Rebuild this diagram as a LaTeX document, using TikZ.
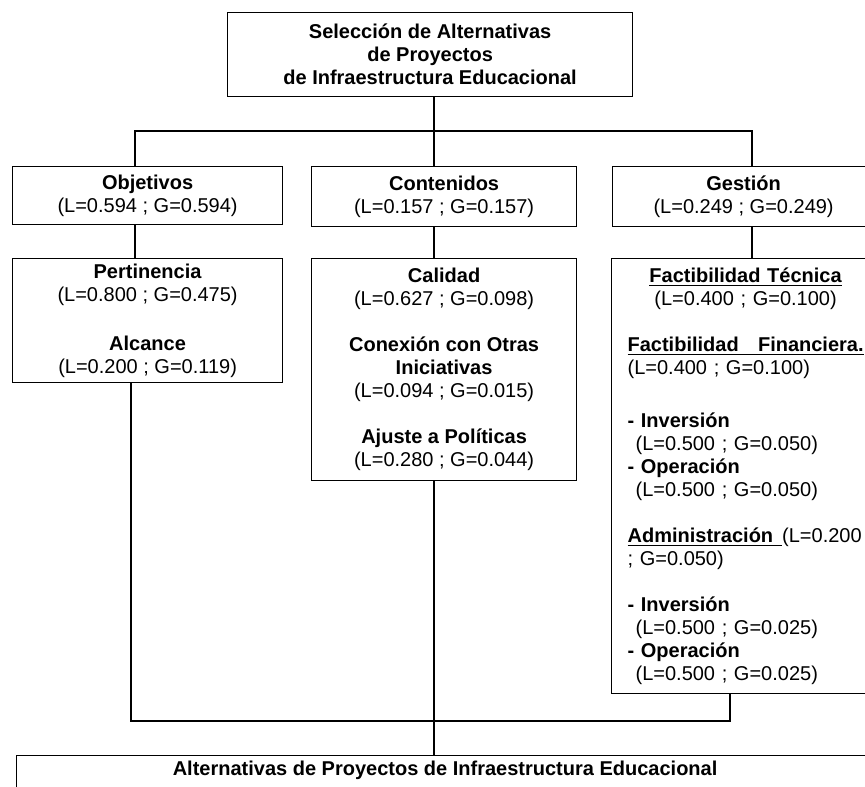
\documentclass[tikz,border=0pt]{standalone}
\usepackage{fontspec}
\setmainfont{Liberation Sans}
\usetikzlibrary{positioning}

\newcommand{\factw}{118pt}

\begin{document}
\begin{tikzpicture}[x=0.5pt, y=-0.5pt,
    every node/.style={font=\fontsize{10}{11.5}\selectfont},
    critbox/.style={draw, rectangle, line width=0.6pt, fill=white, align=center, anchor=north west, inner sep=0pt},
    subbox/.style={draw, rectangle, line width=0.6pt, fill=white, align=left, anchor=north west, inner xsep=8pt, inner ysep=0pt, text width=\factw},
    conn/.style={line width=0.6pt}
]
    \useasboundingbox (0,0) rectangle (865,786);
    \clip (0,0) rectangle (865,786);

    % Goal
    \node (goal) [critbox, minimum width=202.5pt, minimum height=42pt] at (227,12)
        {\textbf{Selección de Alternativas}\\\textbf{de Proyectos}\\\textbf{de Infraestructura Educacional}};

    % Criteria
    \node (obj) [critbox, minimum width=135pt, minimum height=29pt] at (12,166)
        {\textbf{Objetivos}\\(L=0.594 ; G=0.594)};
    \node (cont) [critbox, minimum width=132.5pt, minimum height=30pt] at (311,166)
        {\textbf{Contenidos}\\(L=0.157 ; G=0.157)};
    \node (gest) [critbox, minimum width=131pt, minimum height=30pt] at (612,166)
        {\textbf{Gestión}\\(L=0.249 ; G=0.249)};

    % Sub-criteria
    \node (pert) [critbox, minimum width=135pt, minimum height=62pt] at (12,258)
        {\textbf{Pertinencia}\\(L=0.800 ; G=0.475)\\[13pt]
         \textbf{Alcance}\\(L=0.200 ; G=0.119)};
    \node (cal) [critbox, minimum width=132.5pt, minimum height=111pt] at (311,258)
        {\textbf{Calidad}\\(L=0.627 ; G=0.098)\\[11.5pt]
         \textbf{Conexión con Otras}\\\textbf{Iniciativas}\\(L=0.094 ; G=0.015)\\[11.5pt]
         \textbf{Ajuste a Políticas}\\(L=0.280 ; G=0.044)};
    \node (fact) [subbox, minimum height=217.5pt] at (611,258)
        {\makebox[\factw]{\underline{\textbf{Factibilidad Técnica}}}\\
         \makebox[\factw]{(L=0.400 ; G=0.100)}\\[11.5pt]
         \underline{\hbox to \factw{\textbf{Factibilidad}\hfill\textbf{Financiera.}}}\\
         (L=0.400 ; G=0.100)\\[15pt]
         \textbf{- Inversión}\\
         \hspace*{4pt}(L=0.500 ; G=0.050)\\
         \textbf{- Operación}\\
         \hspace*{4pt}(L=0.500 ; G=0.050)\\[11.5pt]
         \underline{\textbf{Administración}\hspace{4.5pt}}(L=0.200\\
         ; G=0.050)\\[11.5pt]
         \textbf{- Inversión}\\
         \hspace*{4pt}(L=0.500 ; G=0.025)\\
         \textbf{- Operación}\\
         \hspace*{4pt}(L=0.500 ; G=0.025)};

    % Alternatives
    \node (alt) [draw, rectangle, line width=0.6pt, fill=white, anchor=north west, inner sep=0pt,
        minimum width=428.5pt, text height=10pt, text depth=25pt] at (16,755)
        {\textbf{Alternativas de Proyectos de Infraestructura Educacional}};

    % Bus points
    \coordinate (t1) at (135,131);
    \coordinate (t2) at (434,131);
    \coordinate (t3) at (752,131);
    \coordinate (b1) at (131,721);
    \coordinate (b2) at (434,721);
    \coordinate (b3) at (730,721);

    % Upper tree
    \draw [conn] (goal.south -| t2) -- (t2);
    \draw [conn] (obj.north -| t1) |- (t3) -- (gest.north -| t3);
    \draw [conn] (cont.north -| t2) -- (t2);

    % Criteria to sub-criteria
    \draw [conn] (obj.south -| t1) -- (pert.north -| t1);
    \draw [conn] (cont.south -| t2) -- (cal.north -| t2);
    \draw [conn] (gest.south -| t3) -- (fact.north -| t3);

    % Lower tree
    \draw [conn] (pert.south -| b1) |- (b3) -- (fact.south -| b3);
    \draw [conn] (cal.south -| b2) -- (alt.north -| b2);

\end{tikzpicture}
\end{document}
